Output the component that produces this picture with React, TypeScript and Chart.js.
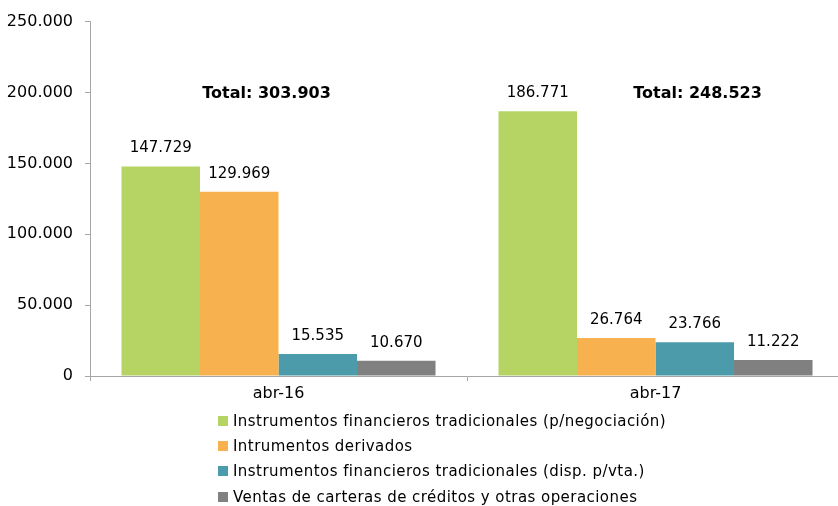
import React, { useEffect, useRef } from "react";
import { Chart, registerables } from "chart.js";

Chart.register(...registerables);

const categories = ["abr-16", "abr-17"];
const seriesNames = [
  "Instrumentos financieros tradicionales (p/negociación)",
  "Intrumentos derivados",
  "Instrumentos financieros tradicionales (disp. p/vta.)",
  "Ventas de carteras de créditos y otras operaciones",
];
const negociacion = [147729, 186771];
const derivados = [129969, 26764];
const dispVta = [15535, 23766];
const ventasCarteras = [10670, 11222];
const totals = [303903, 248523];
const yTicks = [0, 50000, 100000, 150000, 200000, 250000];

const colors = ["#B6D464", "#F7B14E", "#4B9BAA", "#808080"];
const FONT = "'DejaVu Sans', 'Open Sans', sans-serif";

function fmt(n: number): string {
  const s = Math.round(n).toString();
  return s.replace(/\B(?=(\d{3})+(?!\d))/g, ".");
}

const labelPlugin = {
  id: "valueLabels",
  afterDatasetsDraw(chart: any) {
    const ctx = chart.ctx;
    ctx.save();
    ctx.fillStyle = "#000";
    ctx.textAlign = "center";
    ctx.textBaseline = "middle";
    ctx.font = `15px ${FONT}`;
    chart.data.datasets.forEach((ds: any, di: number) => {
      const meta = chart.getDatasetMeta(di);
      meta.data.forEach((bar: any, i: number) => {
        ctx.fillText(fmt(ds.data[i]), bar.x, bar.y - 18);
      });
    });
    const xs = chart.scales.x;
    const ys = chart.scales.y;
    const offsets = [-12, 42];
    ctx.font = `bold 16px ${FONT}`;
    totals.forEach((t, i) => {
      const x = xs.getPixelForValue(i) + offsets[i];
      const y = ys.getPixelForValue(199000);
      ctx.fillText("Total: " + fmt(t), x, y);
    });
    ctx.restore();
  },
};

export default function App() {
  const ref = useRef<HTMLCanvasElement | null>(null);
  useEffect(() => {
    if (!ref.current) return;
    const chart = new Chart(ref.current, {
      type: "bar",
      data: {
        labels: categories,
        datasets: [negociacion, derivados, dispVta, ventasCarteras].map((d, i) => ({
          label: seriesNames[i],
          data: d,
          backgroundColor: colors[i],
          categoryPercentage: 0.833,
          barPercentage: 1,
        })),
      },
      options: {
        animation: false,
        responsive: false,
        maintainAspectRatio: false,
        layout: { padding: { top: 19, right: 6, left: 0, bottom: 0 } },
        plugins: { legend: { display: false }, tooltip: { enabled: false } },
        scales: {
          x: {
            grid: {
              offset: true,
              drawOnChartArea: false,
              drawTicks: true,
              tickLength: 5,
              color: "#A6A6A6",
            },
            border: { color: "#A6A6A6" },
            ticks: { color: "#000", font: { family: FONT, size: 16 }, padding: 3 },
            afterFit: (s: any) => {
              s.height = 130;
            },
          },
          y: {
            min: 0,
            max: 250000,
            afterBuildTicks: (s: any) => {
              s.ticks = yTicks.map((v) => ({ value: v }));
            },
            grid: {
              drawOnChartArea: false,
              drawTicks: true,
              tickLength: 5,
              color: "#A6A6A6",
            },
            border: { color: "#A6A6A6" },
            ticks: {
              color: "#000",
              font: { family: FONT, size: 16 },
              padding: 12,
              callback: (v: any) => fmt(Number(v)),
            },
            afterFit: (s: any) => {
              s.width = 90;
            },
          },
        },
      },
      plugins: [labelPlugin],
    });
    return () => chart.destroy();
  }, []);

  return (
    <div style={{ position: "absolute", left: 0, top: 0, width: 838, height: 506, overflow: "hidden", background: "#fff" }}>
      <canvas ref={ref} width={850} height={506} style={{ position: "absolute", left: 0, top: 0, width: 850, height: 506 }} />
      <div style={{ position: "absolute", left: 218, top: 408, fontFamily: FONT, fontSize: 15, letterSpacing: "0.45px", color: "#000" }}>
        {seriesNames.map((n, i) => (
          <div key={n} style={{ display: "flex", alignItems: "center", height: 25.3, whiteSpace: "nowrap" }}>
            <span style={{ display: "inline-block", width: 10, height: 10, background: colors[i], marginRight: 5 }} />
            <span>{n}</span>
          </div>
        ))}
      </div>
    </div>
  );
}
